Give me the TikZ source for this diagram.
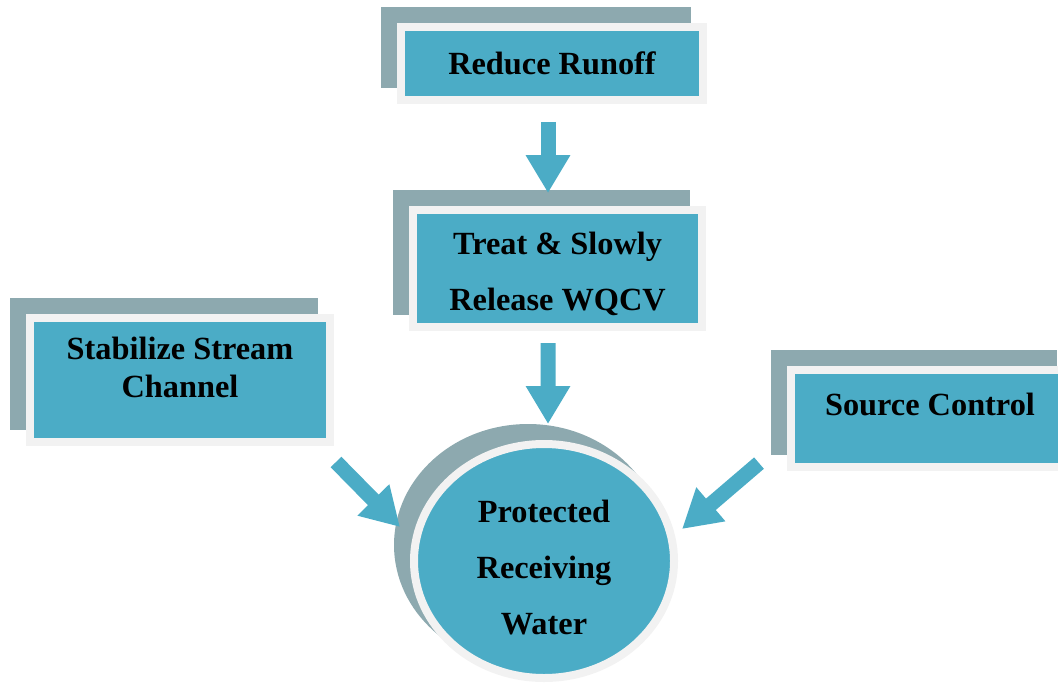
\documentclass[tikz,border=0pt]{standalone}
\usepackage{fontspec}
\setmainfont{Liberation Serif}
\usepackage{tikz}
\usetikzlibrary{arrows.meta, positioning, shapes.geometric}
\usepackage{xcolor}
\definecolor{tealbox}{HTML}{4BACC6}
\definecolor{shadowgray}{HTML}{8DA9AF}
\definecolor{ringgray}{HTML}{F2F2F2}

\begin{document}
\begin{tikzpicture}[
  task/.style={rectangle, fill=tealbox, draw=ringgray, line width=0.2cm,
               preaction={fill=shadowgray, draw=shadowgray, line width=0.2cm,
                          transform canvas={shift={(-0.4cm,0.4cm)}}},
               inner sep=0pt, align=center,
               font=\bfseries\fontsize{23}{40}\selectfont},
  goal/.style={task, ellipse, minimum width=6.5cm, minimum height=5.85cm},
  flow/.style={-{Triangle[length=0.95cm, width=1.05cm]}, line width=0.375cm, tealbox}
]
  \useasboundingbox (0,0) rectangle (26.45,17.075);
  \clip (0,0) rectangle (26.45,17.075);

  \node[task, minimum width=7.55cm, minimum height=1.825cm] (ro) at (13.8,15.49) {Reduce Runoff};
  \node[task, minimum width=7.225cm, minimum height=2.925cm, text height=2.25cm] (tr) at (13.94,10.36) {Treat \& Slowly\\Release WQCV};
  \node[task, minimum width=7.5cm, minimum height=3.1cm, text depth=0.62cm,
        font=\bfseries\fontsize{23}{27}\selectfont] (st) at (4.5,7.575) {Stabilize Stream\\Channel};
  \node[task, minimum width=6.95cm, minimum height=2.425cm, text depth=0.72cm] (sc) at (23.25,6.61) {Source Control};
  \node[goal, text height=3.7cm] (pw) at (13.6,3.05) {Protected\\Receiving\\Water};

  % Arrows into the receiving water
  \draw[flow] ([xshift=-0.1cm, yshift=-0.45cm]ro.south) -- ([xshift=-0.24cm, yshift=0.325cm]tr.north);
  \draw[flow] ([xshift=-0.24cm, yshift=-0.3cm]tr.south) -- ([xshift=0.1cm, yshift=0.4cm]pw.north);
  \draw[flow] ([shift={(0.05cm,-0.4cm)}]st.south east) -- ([shift={(-0.25cm,0.85cm)}]pw.west);
  \draw[flow] ([shift={(-0.7cm,0.2cm)}]sc.south west) -- ([shift={(0.1cm,0.8cm)}]pw.east);
\end{tikzpicture}
\end{document}
